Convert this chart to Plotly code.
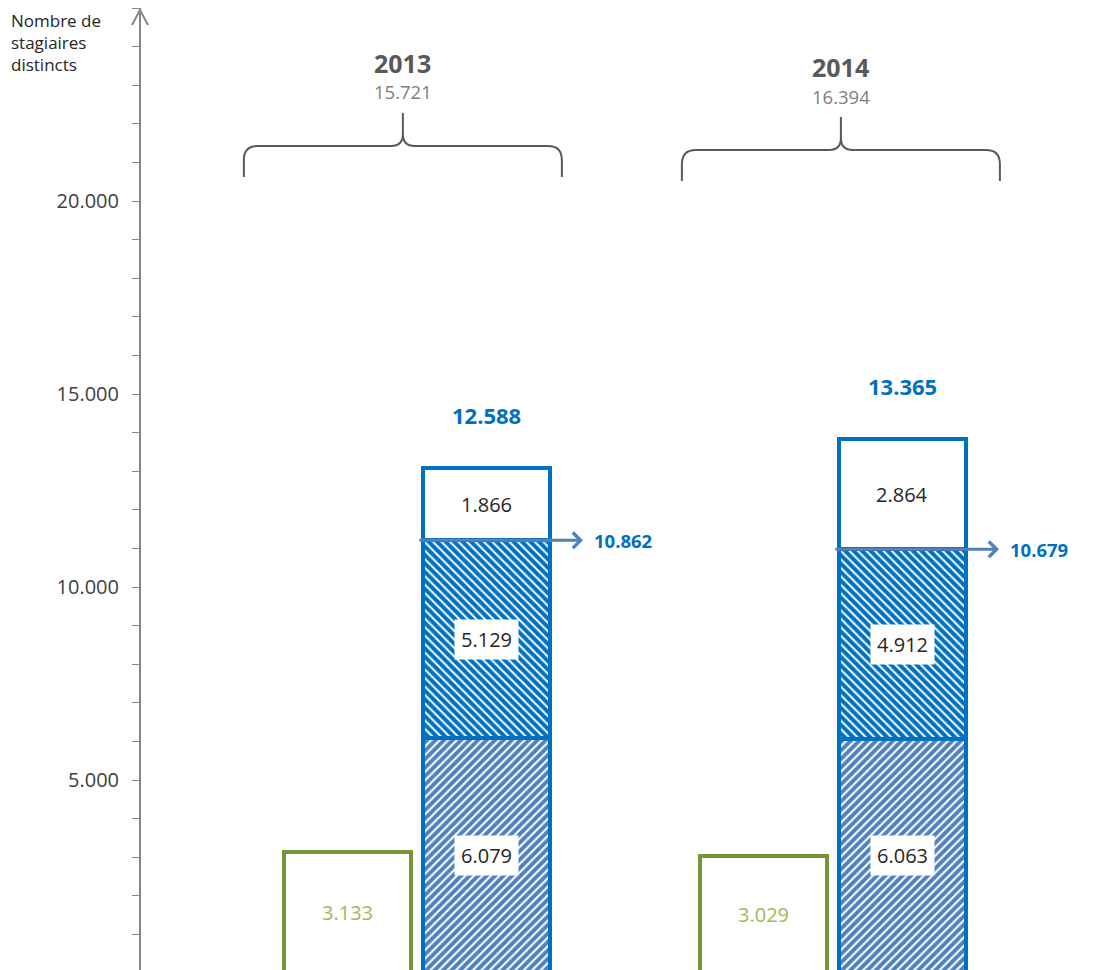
import plotly.graph_objects as go

# ---------------- data ----------------
years = ["2013", "2014"]
year_totals = [15721, 16394]
green_vals = [3133, 3029]
blue_bottom = [6079, 6063]
blue_middle = [5129, 4912]
blue_top = [1866, 2864]
cumul_labels = [10862, 10679]
blue_totals = [12588, 13365]
y_tick_vals = [5000, 10000, 15000, 20000]
y_tick_text = ["5.000", "10.000", "15.000", "20.000"]
y_title = "Nombre de<br>stagiaires<br>distincts"


def fmt(v):
    return f"{v:,}".replace(",", ".")


# ---------------- layout constants ----------------
FONT = "Open Sans"
BAR_W = 0.305
OFF = 0.167
X_RANGE = [-0.6635, 1.637]
Y_RANGE = [77.7, 25000]
BLUE = "#0070c0"
LBLUE = "#4f81bd"
HATCH_DARK = "#0070c0"
HATCH_LIGHT = "#4f81bd"
GREEN_LINE = "#77933c"
GREEN_TXT = "#9bbb59"
AXIS_C = "#868686"
TXT = "#262626"
brace_x = [-0.034, 1.019]
brace_y = [21425, 21321]

group_x = list(range(len(years)))
green_x = [g - OFF for g in group_x]
blue_x = [g + OFF for g in group_x]
mid_base = blue_bottom
top_base = [a + b for a, b in zip(blue_bottom, blue_middle)]
stack_top = [a + b for a, b in zip(top_base, blue_top)]

fig = go.Figure()

fig.add_trace(go.Bar(
    x=green_x, y=green_vals, width=BAR_W, base=0,
    marker=dict(color="white", line=dict(color=GREEN_LINE, width=4)),
    hoverinfo="skip", showlegend=False))
fig.add_trace(go.Bar(
    x=blue_x, y=blue_bottom, width=BAR_W, base=0,
    marker=dict(color="white",
                pattern=dict(shape="/", fgcolor=HATCH_LIGHT, bgcolor="white", fgopacity=1,
                             size=6, solidity=0.66),
                line=dict(color=BLUE, width=4)),
    hoverinfo="skip", showlegend=False))
fig.add_trace(go.Bar(
    x=blue_x, y=blue_middle, width=BAR_W, base=mid_base,
    marker=dict(color="white",
                pattern=dict(shape="\\", fgcolor=HATCH_DARK, bgcolor="white", fgopacity=1,
                             size=6, solidity=0.68),
                line=dict(color=BLUE, width=4)),
    hoverinfo="skip", showlegend=False))
fig.add_trace(go.Bar(
    x=blue_x, y=blue_top, width=BAR_W, base=top_base,
    marker=dict(color="white", line=dict(color=BLUE, width=4)),
    hoverinfo="skip", showlegend=False))

ann = []
for i in range(len(years)):
    ann.append(dict(x=green_x[i], y=green_vals[i] / 2, text=fmt(green_vals[i]),
                    showarrow=False, font=dict(family=FONT, size=20, color=GREEN_TXT)))
    for base, val in ((0, blue_bottom[i]), (mid_base[i], blue_middle[i]), (top_base[i], blue_top[i])):
        ann.append(dict(x=blue_x[i], y=base + val / 2, text=fmt(val), showarrow=False,
                        bgcolor="white", borderpad=6,
                        font=dict(family=FONT, size=20, color=TXT)))
    ann.append(dict(x=blue_x[i] + 0.232, y=top_base[i], ax=blue_x[i] - 0.165, ay=top_base[i],
                    axref="x", ayref="y", xref="x", yref="y", text="", showarrow=True,
                    arrowhead=4, arrowsize=1, arrowwidth=3, arrowcolor=LBLUE, standoff=0))
    ann.append(dict(x=blue_x[i] + 0.254, y=top_base[i], text="<b>" + fmt(cumul_labels[i]) + "</b>",
                    showarrow=False, xanchor="left", yanchor="middle",
                    font=dict(family=FONT, size=18.5, color=BLUE)))
    ann.append(dict(x=blue_x[i], y=stack_top[i], yshift=53, text="<b>" + fmt(blue_totals[i]) + "</b>",
                    showarrow=False, yanchor="middle",
                    font=dict(family=FONT, size=22, color=BLUE)))
    ann.append(dict(x=brace_x[i], y=brace_y[i], yshift=83, text="<b>" + years[i] + "</b>",
                    showarrow=False, yanchor="middle",
                    font=dict(family=FONT, size=25, color="#595959")))
    ann.append(dict(x=brace_x[i], y=brace_y[i], yshift=54, text=fmt(year_totals[i]),
                    showarrow=False, yanchor="middle",
                    font=dict(family=FONT, size=18.5, color="#7f7f7f")))

ann.append(dict(xref="paper", yref="paper", x=0, y=1, xanchor="left", yanchor="top",
                xshift=-131, yshift=0, borderpad=0, text=y_title, align="left", showarrow=False,
                font=dict(family=FONT, size=17, color=TXT)))

shapes = []
brace_path = ("M -159,-31 L -159,-14 Q -159,0 -145,0 L -12,0 Q 0,0 0,12 L 0,33 "
              "M 0,12 Q 0,0 12,0 L 145,0 Q 159,0 159,-14 L 159,-31")
for i in range(len(years)):
    shapes.append(dict(type="path", xref="x", yref="y", xsizemode="pixel", ysizemode="pixel",
                       xanchor=brace_x[i], yanchor=brace_y[i], path=brace_path,
                       line=dict(color="#595959", width=2)))
shapes.append(dict(type="path", xref="paper", yref="paper", xsizemode="pixel", ysizemode="pixel",
                   xanchor=0, yanchor=1, path="M -9,-17 L -1,-2 L 7,-17",
                   line=dict(color=AXIS_C, width=2)))

fig.update_layout(
    width=1090, height=962,
    margin=dict(l=133, r=0, t=0, b=0, pad=0),
    paper_bgcolor="white", plot_bgcolor="white",
    barmode="overlay", bargap=0,
    annotations=ann, shapes=shapes,
    xaxis=dict(range=X_RANGE, visible=False, fixedrange=True),
    yaxis=dict(range=Y_RANGE, showgrid=False, zeroline=False,
               showline=True, linecolor=AXIS_C, linewidth=2,
               tickmode="array", tickvals=y_tick_vals, ticktext=y_tick_text,
               ticks="outside", ticklen=7, tickwidth=1, tickcolor=AXIS_C,
               ticklabelstandoff=9,
               tickfont=dict(family=FONT, size=20, color="#404040"),
               minor=dict(tickmode="linear", tick0=0, dtick=1000, ticks="outside",
                          ticklen=7, tickwidth=1, tickcolor=AXIS_C)),
    yaxis2=dict(range=Y_RANGE, overlaying="y", anchor="x", side="left",
                showgrid=False, zeroline=False, showline=False, showticklabels=False,
                tickmode="array", tickvals=y_tick_vals,
                ticks="inside", ticklen=6, tickwidth=1, tickcolor=AXIS_C,
                minor=dict(tickmode="linear", tick0=0, dtick=1000, ticks="inside",
                           ticklen=6, tickwidth=1, tickcolor=AXIS_C)),
)

fig.write_html("out.html")
